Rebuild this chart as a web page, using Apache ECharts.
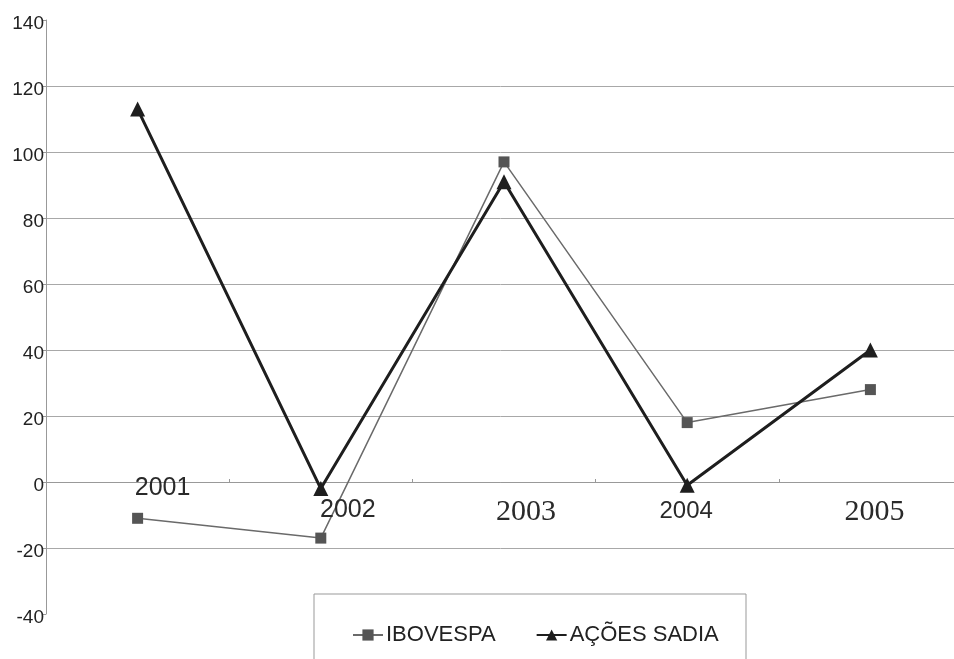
<!DOCTYPE html>
<html><head><meta charset="utf-8">
<script src="https://cdn.jsdelivr.net/npm/echarts@6/dist/echarts.min.js"></script>
<style>html,body{margin:0;padding:0;background:#fff}#c{width:954px;height:659px}</style>
</head><body><div id="c"></div>
<script>
const categories = ['2001', '2002', '2003', '2004', '2005'];
const ibovespa = [-11, -17, 97, 18, 28];
const acoesSadia = [113, -2, 91, -1, 40];
const yTicks = [-40, -20, 0, 20, 40, 60, 80, 100, 120, 140];

// category label look (scanned original uses mixed fonts / offsets)
const catLabelStyle = [
  {font: 'Liberation Sans', size: 25, dx: 25, dy: 6},
  {font: 'Liberation Sans', size: 25, dx: 27, dy: 28},
  {font: 'Liberation Serif', size: 30, dx: 22, dy: 30},
  {font: 'Liberation Sans', size: 24, dx: -1, dy: 29},
  {font: 'Liberation Serif', size: 30, dx: 4, dy: 30}
];

const chart = echarts.init(document.getElementById('c'), null, {renderer: 'canvas'});
const option = {
  animation: false,
  backgroundColor: '#fff',
  grid: {left: 46, width: 916, top: 20, bottom: 45, containLabel: false, outerBoundsMode: 'none'},
  xAxis: {
    type: 'category',
    data: categories,
    boundaryGap: true,
    axisLine: {onZero: true, lineStyle: {color: '#999', width: 1}},
    axisTick: {show: true, length: 3, inside: true, lineStyle: {color: '#999'}},
    axisLabel: {show: false},
    splitLine: {show: false}
  },
  yAxis: {
    type: 'value',
    min: yTicks[0], max: yTicks[yTicks.length - 1], interval: 20,
    axisLine: {show: true, lineStyle: {color: '#999', width: 1}},
    axisTick: {show: true, length: 3, lineStyle: {color: '#999'}},
    axisLabel: {
      margin: 2,
      formatter: v => '{a|' + v + '}',
      rich: {a: {fontFamily: 'Liberation Sans', fontSize: 19, color: '#222', padding: [8, 0, 0, 0]}}
    },
    splitLine: {show: true, showMinLine: false, showMaxLine: false, lineStyle: {color: '#a8a8a8', width: 1}}
  },
  legend: {
    left: 352, top: 624,
    padding: 0,
    itemWidth: 30, itemHeight: 14, itemGap: 40,
    textStyle: {fontFamily: 'Liberation Sans', fontSize: 22, color: '#222', padding: [0, 0, 0, -2]},
    data: ['IBOVESPA', 'AÇÕES SADIA']
  },
  series: [
    {
      name: 'IBOVESPA', type: 'line', data: ibovespa,
      symbol: 'rect', symbolSize: 11,
      lineStyle: {color: '#6a6a6a', width: 1.5},
      itemStyle: {color: '#555'}
    },
    {
      name: 'AÇÕES SADIA', type: 'line', data: acoesSadia,
      symbol: 'triangle', symbolSize: 15,
      lineStyle: {color: '#1e1e1e', width: 3},
      itemStyle: {color: '#1e1e1e'}
    }
  ]
};
chart.setOption(option);

const y0 = chart.convertToPixel({yAxisIndex: 0}, 0);
const graphics = categories.map((c, i) => {
  const x = chart.convertToPixel({xAxisIndex: 0}, i);
  const s = catLabelStyle[i];
  return {
    type: 'text', z: 10,
    x: x + s.dx, y: y0 + s.dy,
    style: {text: c, fontFamily: s.font, fontSize: s.size, fill: '#2a2a2a', align: 'center', verticalAlign: 'middle'}
  };
});
graphics.push({
  type: 'rect', z: 0,
  shape: {x: 314, y: 594, width: 432, height: 100},
  style: {fill: 'none', stroke: '#999', lineWidth: 1}
});
chart.setOption({graphic: graphics});
</script>
</body></html>
